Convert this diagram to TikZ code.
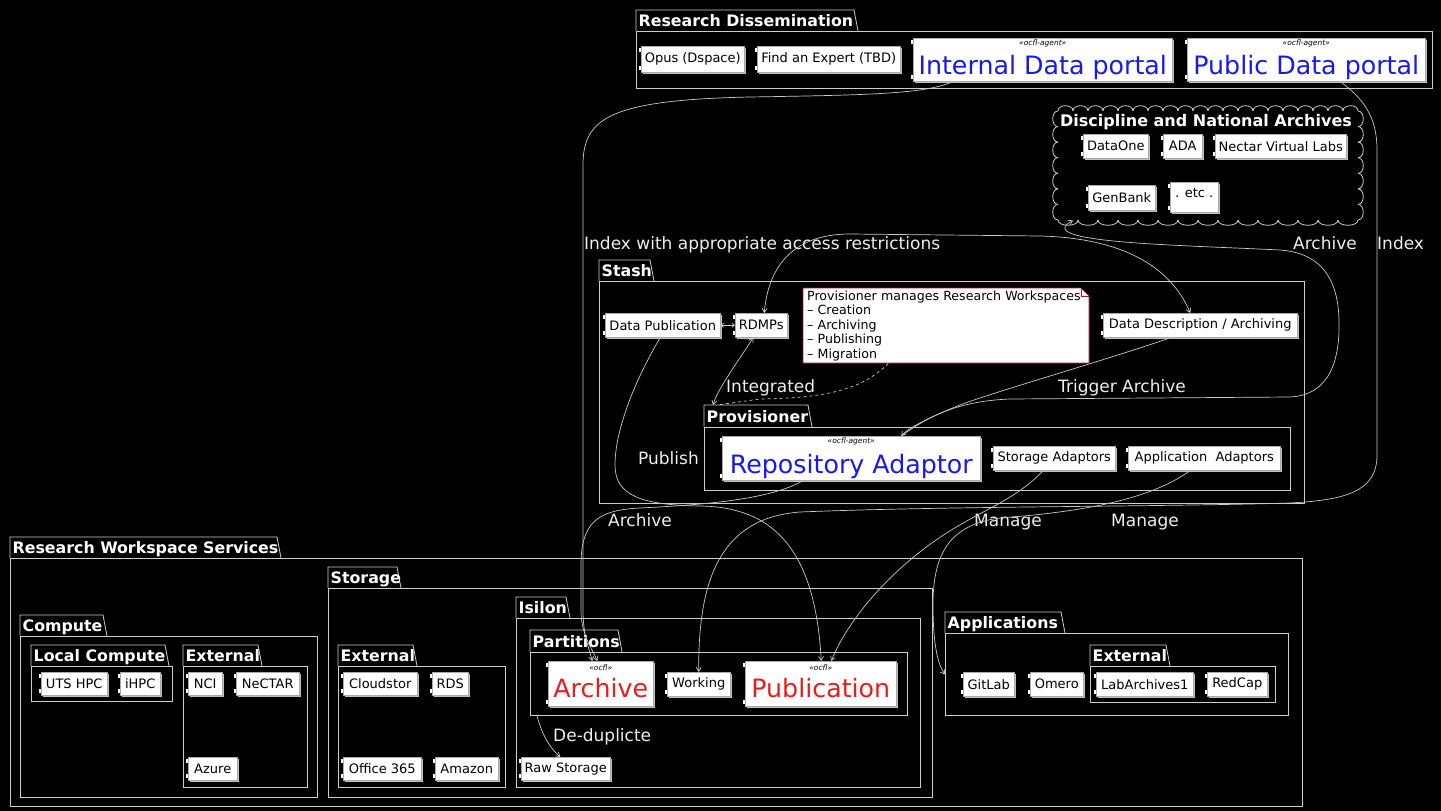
\documentclass[tikz,border=0pt]{standalone}
\usepackage{fontspec}
\setmainfont{DejaVu Sans}
\usetikzlibrary{arrows.meta}
\definecolor{lg}{RGB}{200,200,200}
\definecolor{pk}{RGB}{205,205,205}
\definecolor{cb}{RGB}{170,170,170}
\definecolor{bl}{RGB}{25,25,235}
\definecolor{rd}{RGB}{232,30,30}
\definecolor{nb}{RGB}{168,20,60}
\definecolor{tx}{RGB}{238,238,238}
\tikzset{
 pkgline/.style={draw=pk, line width=0.8pt},
 pkgbody/.style={draw=pk, line width=0.8pt, inner sep=0pt},
 ptitle/.style={text=white, font=\fontsize{15.8}{18}\selectfont\bfseries, inner sep=0pt},
 compbox/.style={draw=cb, fill=white, line width=0.5pt, inner sep=0pt, text=black, align=center, font=\fontsize{13}{15}\selectfont},
 shadowc/.style={fill=gray!50},
 lbl/.style={text=tx, font=\fontsize{17}{19}\selectfont, inner sep=0pt, anchor=base west},
 conn/.style={draw=lg, line width=0.7pt},
 tip/.style={-{Straight Barb[length=4pt,width=5pt]}},
 tips/.style={{Straight Barb[length=4pt,width=5pt]}-{Straight Barb[length=4pt,width=5pt]}},
 smalltips/.style={{Straight Barb[length=2.5pt,width=4pt]}-{Straight Barb[length=2.5pt,width=4pt]}},
}
\newcommand\stereo[1]{{\fontsize{7.5}{8}\selectfont\itshape «#1»}}
\newcommand\bigtxt{\fontsize{25.3}{27}\selectfont}
\newcommand\pkg[8]{%
  \node[pkgbody, minimum width={#6pt-#2pt}, minimum height={#7pt-#5pt}, anchor=north west] (#1) at (#2,#5) {};
  \draw[pkgline] (#2,#5) -- (#2,#3) -- (#4-4,#3) -- (#4,#5);
  \coordinate (#1-tab) at (#2,#3);
  \node[ptitle, anchor=base west] (#1-t) at (#2+2.5,#5-4.5) {#8};
}
\newcommand\comp[7][]{%
  \fill[shadowc] (#3+2,#4+2) rectangle (#5+2,#6+2);
  \node[compbox,#1,minimum width={#5pt-#3pt},minimum height={#6pt-#4pt},anchor=north west] (#2) at (#3,#4) {#7};
  \fill[white] (#3-2.5,#4+2) rectangle (#3,#4+6);
  \fill[white] (#3-2.5,#6-6) rectangle (#3,#6-2);
}
\begin{document}
\begin{tikzpicture}[x=1pt,y=-1pt]
\fill[black] (0,0) rectangle (1441,811);
\useasboundingbox (0,0) rectangle (1441,811);

% ---------- packages ----------
\pkg{dissem}{636}{10}{858}{31}{1432}{88}{Research Dissemination}
\pkg{stash}{599}{260}{654}{281}{1304}{503}{Stash}
\pkg{prov}{704}{405}{812}{427}{1290}{490}{Provisioner}
\pkg{rws}{10}{537}{281}{558}{1302}{806}{Research Workspace Services}
\pkg{storage}{328}{567}{401}{588}{932}{797}{Storage}
\pkg{compute}{20}{615}{107}{636}{317}{797}{Compute}
\pkg{localc}{31}{645}{169}{666}{172}{701}{Local Compute}
\pkg{extc}{183}{645}{262}{666}{307}{787}{External}
\pkg{exts}{338}{645}{417}{666}{505}{787}{External}
\pkg{isilon}{516}{597}{570}{618}{920}{787}{Isilon}
\pkg{partitions}{530}{630}{622}{652}{907}{715}{Partitions}
\pkg{apps}{945}{612}{1065}{633}{1288}{715}{Applications}
\pkg{exta}{1090}{645}{1170}{666}{1275}{702}{External}

% ---------- cloud ----------
\node[inner sep=0pt, minimum width=300pt, minimum height=109pt, anchor=north west] (cloud) at (1058,111) {};
\foreach \i [evaluate=\i as \xa using 1058+15*\i, evaluate=\i as \xb using 1073+15*\i] in {0,...,19}
  \draw[pkgline] (\xa,111) .. controls (\xa,104) and (\xb,104) .. (\xb,111);
\foreach \i [evaluate=\i as \xa using 1058+20*\i, evaluate=\i as \xb using 1078+20*\i] in {0,...,14}
  \draw[pkgline] (\xa,220) .. controls (\xa,227) and (\xb,227) .. (\xb,220);
\foreach \i [evaluate=\i as \ya using 111+15.5714*\i, evaluate=\i as \yb using 126.5714+15.5714*\i] in {0,...,6}{
  \draw[pkgline] (1058,\ya) .. controls (1051,\ya) and (1051,\yb) .. (1058,\yb);
  \draw[pkgline] (1358,\ya) .. controls (1365,\ya) and (1365,\yb) .. (1358,\yb);
}
\node[ptitle, font=\fontsize{16}{18}\selectfont\bfseries, anchor=base] (cloud-t) at (1206,126) {Discipline and National Archives};

% ---------- components ----------
\comp{opus}{641}{46}{744}{72}{Opus (Dspace)}
\comp{fae}{757}{46}{900}{72}{Find an Expert (TBD)}
\comp{intportal}{913}{38}{1172}{81}{\stereo{ocfl-agent}\\[7.5pt]{\bigtxt\color{bl}Internal Data portal}}
\comp{pubportal}{1187}{38}{1425}{81}{\stereo{ocfl-agent}\\[7.5pt]{\bigtxt\color{bl}Public Data portal}}

\comp{dataone}{1083}{134}{1148}{158}{DataOne}
\comp{ada}{1163}{134}{1202}{158}{ADA}
\comp{nectarvl}{1215}{134}{1346}{158}{Nectar Virtual Labs}
\comp{genbank}{1088}{185}{1155}{210}{GenBank}
\comp{etc}{1170}{182}{1218}{212}{\raisebox{9pt}{. etc .}}

\comp{datapub}{605}{313}{720}{337}{Data Publication}
\comp{rdmps}{735}{313}{787}{337}{RDMPs}
\comp{datadesc}{1103}{313}{1297}{337}{Data Description / Archiving}

% note
\fill[white] (803,288) -- (1081,288) -- (1089,296) -- (1089,363) -- (803,363) -- cycle;
\draw[nb, line width=0.6pt] (803,288) -- (1081,288) -- (1089,296) -- (1089,363) -- (803,363) -- cycle;
\draw[nb, line width=0.6pt] (1081,288) -- (1081,296) -- (1089,296);
\node[anchor=north west, minimum width=286pt, minimum height=75pt, inner xsep=4pt, inner ysep=0pt, text width=278pt, align=left, text=black, font=\fontsize{12.6}{14.5}\selectfont] (note) at (803,288) {Provisioner manages Research Workspaces\\– Creation\\– Archiving\\– Publishing\\– Migration};

\comp{repadapt}{722}{436}{980}{480}{\stereo{ocfl-agent}\\[7.5pt]{\bigtxt\color{bl}Repository Adaptor}}
\comp{storad}{993}{446}{1115}{470}{Storage Adaptors}
\comp{appad}{1128}{446}{1280}{470}{Application~ Adaptors}

\comp{utshpc}{41}{672}{107}{695}{UTS HPC}
\comp{ihpc}{120}{672}{160}{695}{iHPC}
\comp{nci}{188}{672}{222}{695}{NCI}
\comp{nectar}{236}{672}{299}{695}{NeCTAR}
\comp{azure}{188}{757}{237}{780}{Azure}

\comp{cloudstor}{343}{672}{417}{695}{Cloudstor}
\comp{rds}{432}{672}{468}{695}{RDS}
\comp{othreesixfive}{343}{757}{421}{780}{Office 365}
\comp{amazon}{435}{757}{498}{780}{Amazon}

\comp{archive}{548}{661}{653}{706}{\stereo{ocfl}\\[7.5pt]{\bigtxt\color{rd}Archive\vphantom{p}}}
\comp{working}{667}{672}{730}{696}{Working}
\comp{publication}{745}{661}{896}{706}{\stereo{ocfl}\\[7.5pt]{\bigtxt\color{rd}Publication\vphantom{p}}}
\comp{rawstorage}{521}{757}{610}{780}{Raw Storage}

\comp{gitlab}{963}{672}{1014}{696}{GitLab}
\comp{omero}{1030}{672}{1083}{696}{Omero}
\comp{labarch}{1096}{672}{1193}{696}{LabArchives1}
\comp{redcap}{1207}{672}{1267}{696}{RedCap}

% ---------- labels ----------
\node[lbl] (l-index) at (584,249) {Index with appropriate access restrictions};
\node[lbl] (l-archcloud) at (1293,249) {Archive};
\node[lbl] (l-indexpub) at (1377,249) {Index};
\node[lbl] (l-integrated) at (726,392) {Integrated};
\node[lbl] (l-trigger) at (1058,392) {Trigger Archive};
\node[lbl] (l-publish) at (638,464) {Publish};
\node[lbl] (l-archive) at (608,526) {Archive};
\node[lbl] (l-manage1) at (974,526) {Manage};
\node[lbl] (l-manage2) at (1111,526) {Manage};
\node[lbl] (l-dedup) at (553,741) {De-duplicte};

% ---------- connectors ----------
% internal portal -> archive
\draw[conn,tip] ([xshift=-89.5pt]intportal.south) .. controls (925,94) and (870,95) .. (750,97) .. controls (610,100) and (583,118) .. (583,165) -- (583,610) .. controls (583,635) and (589,648) .. ([xshift=-8.5pt]archive.north);
% public portal -> working
\draw[conn,tip] ([xshift=34pt]pubportal.south) .. controls (1362,98) and (1377,115) .. (1377,150) -- (1377,455) .. controls (1377,492) and (1345,500) .. (1290,503) .. controls (1150,507) and (950,506) .. (800,512) .. controls (720,518) and (698,580) .. (working.north);
% repository adaptor -> archive
\draw[conn,tip] ([xshift=-48pt]repadapt.south) .. controls (770,500) and (700,505) .. (640,508) .. controls (598,510) and (581,522) .. (581,565) -- (581,610) .. controls (581,635) and (592,648) .. ([xshift=-3.5pt]archive.north);
% data publication -> publication
\draw[conn,tip] ([xshift=-2.5pt]datapub.south) .. controls (635,380) and (615,430) .. (615,465) .. controls (615,495) and (640,505) .. (700,506) .. controls (770,507) and (815,545) .. ([xshift=0.5pt]publication.north);
% storage adaptors -> publication
\draw[conn,tip] ([xshift=-11pt]storad.south) .. controls (1020,495) and (995,505) .. (965,522) .. controls (900,558) and (850,615) .. ([xshift=10.5pt]publication.north);
% application adaptors -> applications
\draw[conn,tip] ([xshift=-14pt]appad.south) .. controls (1150,500) and (1080,512) .. (1000,518) .. controls (945,525) and (933,560) .. (933,605) .. controls (933,645) and (938,665) .. (apps.west);
% repository adaptor -> cloud
\draw[conn,tip] ([xshift=50pt]repadapt.north) .. controls (930,415) and (960,401) .. (1010,399) -- (1290,397) .. controls (1330,395) and (1340,360) .. (1339,320) .. controls (1338,280) and (1322,253) .. (1280,250) .. controls (1180,245) and (1030,243) .. ([xshift=15pt]cloud.south west);
% data description -> repository adaptor
\draw[conn,tip] ([xshift=-29pt]datadesc.south) .. controls (1100,362) and (1000,390) .. (960,405) .. controls (930,417) and (908,428) .. ([xshift=50pt]repadapt.north);
% rdmps <-> data description
\draw[conn,tips] ([xshift=3pt]rdmps.north) .. controls (768,270) and (790,234) .. (850,234) -- (1040,236) .. controls (1120,238) and (1170,265) .. ([xshift=-10pt]datadesc.north);
% rdmps <-> provisioner
\draw[conn,tips] ([xshift=-8pt]rdmps.south) .. controls (738,362) and (718,388) .. ([xshift=9pt]prov-tab);
% note -> provisioner
\draw[conn,dashed] ([xshift=-58pt]note.south) .. controls (860,392) and (820,398) .. (760,399) -- ([xshift=13pt]prov-tab);
% data publication <-> rdmps
\draw[conn,smalltips] (datapub.east) -- (rdmps.west);
% partitions -> raw storage
\draw[conn,tip] ([xshift=7pt]partitions.south west) .. controls (542,735) and (550,748) .. ([xshift=-5.5pt]rawstorage.north);
\end{tikzpicture}
\end{document}
